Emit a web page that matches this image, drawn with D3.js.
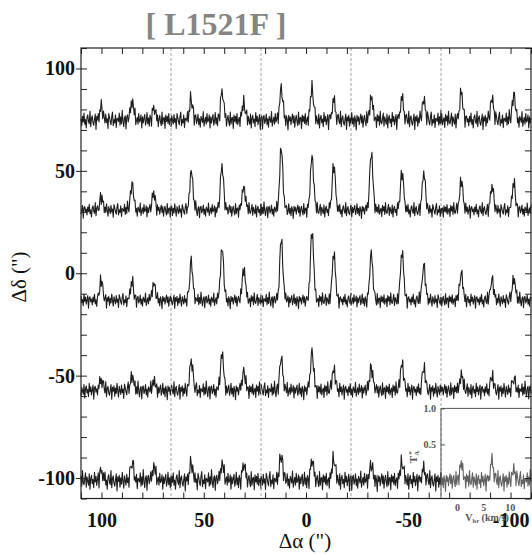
<!DOCTYPE html>
<html>
<head>
<meta charset="utf-8">
<script src="https://cdn.jsdelivr.net/npm/d3@7/dist/d3.min.js"></script>
<style>
  html, body { margin: 0; padding: 0; background: #fff; }
  svg { display: block; }
  text { font-family: "Liberation Serif", "DejaVu Serif", serif; }
</style>
</head>
<body>
<svg id="chart" width="532" height="554"></svg>
<script>
// Map grid: offsets of the cell centres (arcsec)
const raOffsets  = [88, 44, 0, -44, -88];
const decOffsets = [88, 44, 0, -44, -88];

// Hyperfine group velocities (km/s) and velocity window of each cell
const groupVelocities = [0.8, 6.6, 10.8];
const velocityWindow = [-3, 14];
const tempWindow = [-0.25, 1.0];
const channelCount = 120;

// Peak antenna temperatures (K) of the three groups, per cell, east to west
const peaksDec88  = [[0.18, 0.27, 0.16], [0.28, 0.39, 0.22], [0.43, 0.43, 0.27], [0.30, 0.30, 0.28], [0.37, 0.30, 0.35]];
const peaksDec44  = [[0.19, 0.36, 0.24], [0.54, 0.62, 0.33], [0.85, 0.76, 0.63], [0.79, 0.53, 0.52], [0.42, 0.33, 0.36]];
const peaksDec0   = [[0.27, 0.24, 0.23], [0.52, 0.72, 0.44], [0.83, 0.96, 0.65], [0.63, 0.67, 0.49], [0.37, 0.30, 0.31]];
const peaksDecM44 = [[0.16, 0.21, 0.12], [0.42, 0.50, 0.26], [0.44, 0.53, 0.30], [0.34, 0.38, 0.30], [0.21, 0.18, 0.15]];
const peaksDecM88 = [[0.13, 0.24, 0.19], [0.24, 0.23, 0.21], [0.35, 0.27, 0.29], [0.21, 0.24, 0.16], [0.22, 0.27, 0.15]];
const peakRows = [peaksDec88, peaksDec44, peaksDec0, peaksDecM44, peaksDecM88];

// Baseline rms (K) of each row
const rowRms = [0.065, 0.055, 0.055, 0.062, 0.072];

// Channel profile of one hyperfine group (normalised)
const lineShape = [0.03, 0.07, 0.15, 0.32, 0.62, 0.92, 1.0, 0.9, 0.64, 0.38, 0.19, 0.08, 0.03];

// Baseline fluctuations (units of rms)
const baselineNoise = [0.3, -1.2, 0.8, -0.4, 1.5, -0.9, 0.1, -1.7, 0.6, 1.1, -0.3, -0.8, 1.9, -1.4, 0.4, 0.9,
  -0.6, -1.1, 0.2, 1.3, -2.0, 0.7, -0.2, 1.0, -1.3, 0.5, -0.7, 1.6, -0.1, -1.5, 0.9, 0.0, -0.9, 1.2, -0.5, 0.3,
  -1.8, 1.4, 0.6, -0.4, -1.0, 0.8, 1.7, -1.2, 0.1, -0.6, 1.1, -1.6, 0.4, 0.2, -0.3, 1.5, -1.1, 0.7, -0.8, 2.1,
  -0.2, -1.4, 0.5, 0.9, -1.9, 0.6, 1.0, -0.7, -0.1, 1.3, -1.0, 0.3, -1.5, 0.8, 0.2, -0.5, 1.8, -1.3, -0.2, 0.6,
  -0.9, 1.4, -0.4, 0.0, 1.1, -1.7, 0.7, -0.6, 0.4, 1.2, -1.1, -0.3, 1.6, -0.8, 0.5, -1.4, 0.9, 0.1, -2.1, 1.0,
  -0.2, 0.7, -1.0, 0.3, 1.3, -0.6, 0.9, -1.5, 0.2, 1.0, -0.4, -1.2, 1.7, -0.9, 0.4, 0.6, -1.8, 1.1, -0.3, 0.8,
  -0.7, 1.4, -1.0, 0.0, 0.5, -1.6, 1.2, -0.2, 0.9, -1.1, 1.9, -0.5, -0.8, 0.3, 1.5, -1.3, 0.7, -0.1, -0.9, 1.3,
  -1.7, 0.4, 1.0, -0.6, 0.2, -1.4, 1.6, -0.3, 0.8, -1.0, 0.1, 1.2, -2.0, 0.6, 0.9, -0.4];

// Axis ticks
const majorTicks = [100, 50, 0, -50, -100];
const minorTicks = d3.range(-110, 111, 10);
const insetTempTicks = [0.5, 1.0];
const insetVelTicks = [0, 5, 10];

const svg = d3.select("#chart");
const halfCell = 22;

const x = d3.scaleLinear().domain([110, -110]).range([81, 531]);
const y = d3.scaleLinear().domain([-110, 110]).range([498.5, 48]);

// Title
svg.append("text")
  .attr("x", 216).attr("y", 35)
  .attr("text-anchor", "middle")
  .attr("font-size", 32).attr("font-weight", "bold")
  .attr("fill", "#858585")
  .text("[ L1521F ]");

// Cell scales
function cellScales(ra, dec) {
  const vx = d3.scaleLinear().domain(velocityWindow).range([x(ra + halfCell), x(ra - halfCell)]);
  const ty = d3.scaleLinear().domain(tempWindow).range([y(dec - halfCell), y(dec + halfCell)]);
  return { vx, ty };
}

// Build the spectrum of one cell
const dv = (velocityWindow[1] - velocityWindow[0]) / channelCount;
function spectrum(row, col) {
  const amps = peakRows[row][col];
  const centres = groupVelocities.map(v => Math.round((v - velocityWindow[0]) / dv));
  const half = (lineShape.length - 1) / 2;
  const shift = (row * 5 + col) * 29;
  const out = [];
  for (let ch = 0; ch <= channelCount; ch++) {
    let t = baselineNoise[(ch + shift) % baselineNoise.length] * rowRms[row];
    centres.forEach((c, i) => {
      const k = ch - c + half;
      if (k >= 0 && k < lineShape.length) t += amps[i] * lineShape[k];
    });
    out.push({ v: velocityWindow[0] + ch * dv, t });
  }
  return out;
}

// Dashed cell separators
svg.append("g").selectAll("line")
  .data([66, 22, -22, -66])
  .join("line")
  .attr("x1", d => x(d)).attr("x2", d => x(d))
  .attr("y1", y(110)).attr("y2", y(-110))
  .attr("stroke", "#8a8a8a").attr("stroke-width", 0.8)
  .attr("stroke-dasharray", "3,2");

// Spectra
const specG = svg.append("g");
decOffsets.forEach((dec, r) => {
  raOffsets.forEach((ra, c) => {
    const { vx, ty } = cellScales(ra, dec);
    const line = d3.line().x(d => vx(d.v)).y(d => ty(d.t));
    specG.append("path")
      .datum(spectrum(r, c))
      .attr("d", line)
      .attr("fill", "none")
      .attr("stroke", "#1e1e1e")
      .attr("stroke-width", 1.1)
      .attr("stroke-linejoin", "round");
  });
});

// Inset (scale reference for each cell) on the south-west cell
const inset = cellScales(raOffsets[4], decOffsets[4]);
svg.append("rect")
  .attr("x", x(-66)).attr("y", y(-66))
  .attr("width", x(-110) - x(-66)).attr("height", y(-110) - y(-66))
  .attr("fill", "#fff").attr("fill-opacity", 0.3);

const insetFont = g => g.selectAll("text")
  .attr("font-family", "Liberation Serif, serif")
  .attr("font-weight", "bold").attr("font-size", 10).attr("fill", "#555");

svg.append("g")
  .attr("transform", `translate(${x(-66)},0)`)
  .call(d3.axisLeft(inset.ty).tickValues(insetTempTicks).tickFormat(d3.format(".1f")).tickSize(-4).tickPadding(5))
  .call(g => g.select(".domain").remove())
  .call(g => g.selectAll("line").attr("stroke", "#555"))
  .call(insetFont);

svg.append("g")
  .attr("transform", `translate(0,${y(-110)})`)
  .call(d3.axisBottom(inset.vx).tickValues(insetVelTicks).tickSize(0).tickPadding(5))
  .call(g => g.select(".domain").remove())
  .call(insetFont);

svg.append("path")
  .attr("d", `M${x(-66)},${y(-110)}V${y(-66)}H${x(-110)}`)
  .attr("fill", "none").attr("stroke", "#555").attr("stroke-width", 1);

// Frame and ticks
const frameG = svg.append("g").attr("stroke", "#222");
const styleTicks = g => {
  g.select(".domain").remove();
  g.selectAll(".tick line").attr("stroke", "#222").attr("stroke-width", 1);
};
frameG.append("g").attr("transform", `translate(${x(110)},0)`)
  .call(d3.axisLeft(y).tickValues(minorTicks).tickSize(-6).tickFormat(""))
  .call(styleTicks);
frameG.append("g").attr("transform", `translate(${x(-110)},0)`)
  .call(d3.axisRight(y).tickValues(minorTicks).tickSize(-6).tickFormat(""))
  .call(styleTicks);
frameG.append("g").attr("transform", `translate(0,${y(110)})`)
  .call(d3.axisTop(x).tickValues(minorTicks).tickSize(-6).tickFormat(""))
  .call(styleTicks);
frameG.append("g").attr("transform", `translate(0,${y(-110)})`)
  .call(d3.axisBottom(x).tickValues(minorTicks).tickSize(-6).tickFormat(""))
  .call(styleTicks);

const labelStyle = g => g.selectAll("text")
  .attr("font-family", "Liberation Serif, serif")
  .attr("font-weight", "bold").attr("font-size", 20).attr("fill", "#111");

const plainNumber = d => String(d);

svg.append("g").attr("transform", `translate(${x(110)},0)`)
  .call(d3.axisLeft(y).tickValues(majorTicks).tickFormat(plainNumber).tickSize(5).tickPadding(1))
  .call(g => g.select(".domain").remove())
  .call(g => g.selectAll("line").attr("stroke", "#222"))
  .call(labelStyle);

svg.append("g").attr("transform", `translate(0,${y(-110)})`)
  .call(d3.axisBottom(x).tickValues(majorTicks).tickFormat(plainNumber).tickSize(0).tickPadding(14))
  .call(g => g.select(".domain").remove())
  .call(labelStyle);

svg.append("rect")
  .attr("x", x(110)).attr("y", y(110))
  .attr("width", x(-110) - x(110)).attr("height", y(-110) - y(110))
  .attr("fill", "none").attr("stroke", "#222").attr("stroke-width", 1.2);

// Inset axis titles
const tLabel = svg.append("text")
  .attr("transform", `translate(417,457) rotate(-90)`)
  .attr("text-anchor", "middle")
  .attr("font-size", 11).attr("font-weight", "bold").attr("fill", "#555");
tLabel.append("tspan").text("T");
tLabel.append("tspan").attr("font-size", 7).attr("dy", 2).text("A");
tLabel.append("tspan").attr("font-size", 7).attr("dy", -6).attr("dx", -4).text("*");

const vLabel = svg.append("text")
  .attr("x", 487).attr("y", 521)
  .attr("text-anchor", "middle")
  .attr("font-size", 10).attr("font-weight", "bold").attr("fill", "#555");
vLabel.append("tspan").text("V");
vLabel.append("tspan").attr("font-size", 6).attr("dy", 2).text("lsr");
vLabel.append("tspan").attr("dy", -2).text(" (km/s)");

// Axis titles
svg.append("text")
  .attr("x", 305).attr("y", 548)
  .attr("text-anchor", "middle")
  .attr("font-size", 21).attr("fill", "#111")
  .text("Δα (\")");

svg.append("text")
  .attr("transform", `translate(26,277) rotate(-90)`)
  .attr("text-anchor", "middle")
  .attr("font-size", 21).attr("fill", "#111")
  .text("Δδ (\")");
</script>
</body>
</html>
